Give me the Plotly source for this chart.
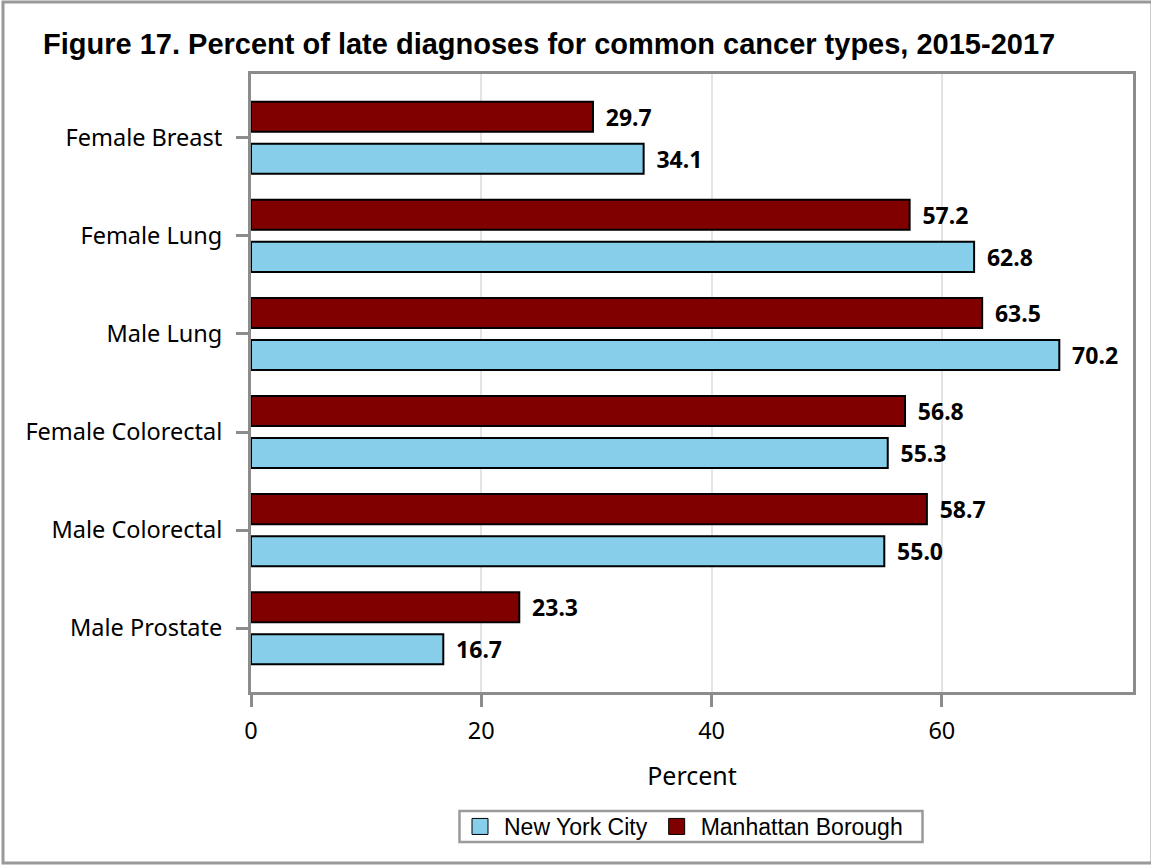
import plotly.graph_objects as go

# data
categories = ["Female Breast", "Female Lung", "Male Lung",
              "Female Colorectal", "Male Colorectal", "Male Prostate"]
manhattan = [29.7, 57.2, 63.5, 56.8, 58.7, 23.3]
nyc = [34.1, 62.8, 70.2, 55.3, 55.0, 16.7]
x_ticks = [0, 20, 40, 60]

W, H = 1151, 865
ML, MR, MT, MB = 251, 18, 74, 173
PW, PH = W - ML - MR, H - MT - MB

AXIS_GREY = "#8c8c8c"
NYC_COLOR = "#87ceeb"
MAN_COLOR = "#800000"
TICK_FONT = dict(family="Noto Sans", size=23.5, color="#000000")
LABEL_FONT = dict(family="Noto Sans", size=23, color="#000000", weight="bold")


def px_x(px):
    return (px - ML) / PW


def px_y(py):
    return (H - MB - py) / PH


fig = go.Figure()

# first trace sits on top with the reversed category axis
fig.add_trace(go.Bar(
    y=categories, x=manhattan, orientation="h",
    name="Manhattan Borough", showlegend=False,
    marker=dict(color=MAN_COLOR, line=dict(color="#000000", width=2)),
    texttemplate="\u00a0\u2009%{x:.1f}", textposition="outside",
    textfont=LABEL_FONT, constraintext="none", cliponaxis=False,
))
fig.add_trace(go.Bar(
    y=categories, x=nyc, orientation="h",
    name="New York City", showlegend=False,
    marker=dict(color=NYC_COLOR, line=dict(color="#000000", width=2)),
    texttemplate="\u00a0\u2009%{x:.1f}", textposition="outside",
    textfont=LABEL_FONT, constraintext="none", cliponaxis=False,
))

# legend entries with bigger square swatches
for name, color in [("New York City", NYC_COLOR), ("Manhattan Borough", MAN_COLOR)]:
    fig.add_trace(go.Scatter(
        x=[None], y=[None], mode="markers", name=name,
        marker=dict(symbol="square", size=16, color=color,
                    line=dict(color="#000000", width=1)),
    ))

fig.update_layout(
    width=W, height=H,
    margin=dict(l=ML, r=MR, t=MT, b=MB),
    paper_bgcolor="white", plot_bgcolor="white",
    barmode="group", bargap=0.143, bargroupgap=0.2857,
    title=dict(
        text="Figure 17. Percent of late diagnoses for common cancer types, 2015-2017",
        font=dict(family="Liberation Sans", size=29, color="#000000", weight="bold"),
        x=43 / W, xanchor="left", xref="container",
        y=1 - 44 / H, yanchor="middle", yref="container",
    ),
    xaxis=dict(
        range=[0, 76.6], tickvals=x_ticks,
        showgrid=True, gridcolor="#e4e4e4", gridwidth=2,
        showline=True, linecolor=AXIS_GREY, linewidth=3, mirror=True,
        ticks="outside", ticklen=12, tickwidth=3, tickcolor=AXIS_GREY,
        tickfont=TICK_FONT, ticklabelstandoff=4, zeroline=False,
        title=dict(text="Percent", font=dict(TICK_FONT, size=25), standoff=23),
    ),
    yaxis=dict(
        categoryorder="array", categoryarray=categories,
        range=[5.65, -0.65],
        showline=True, linecolor=AXIS_GREY, linewidth=3, mirror=True,
        ticks="outside", ticklen=12, tickwidth=3, tickcolor=AXIS_GREY,
        tickfont=TICK_FONT, ticklabelstandoff=9,
    ),
    legend=dict(
        orientation="h", x=px_x(456), xanchor="left",
        y=px_y(826.5), yanchor="middle",
        bgcolor="rgba(0,0,0,0)", borderwidth=0,
        font=dict(family="Liberation Sans", size=23, color="#000000"),
        itemwidth=38,
    ),
    showlegend=True,
)

# legend box
fig.add_shape(
    type="rect", xref="paper", yref="paper",
    x0=px_x(459.5), x1=px_x(922.5), y0=px_y(842), y1=px_y(811),
    line=dict(color="#9a9a9a", width=2.5), fillcolor="white",
    layer="below",
)

# grey frame around the whole picture
fig.add_shape(
    type="rect", xref="paper", yref="paper",
    x0=px_x(3), x1=px_x(1152), y0=px_y(863), y1=px_y(2),
    line=dict(color="#999999", width=3), fillcolor="rgba(0,0,0,0)",
    layer="below",
)

fig.write_html("out.html", config={"displayModeBar": False},
               post_script="document.body.style.margin='0';")
